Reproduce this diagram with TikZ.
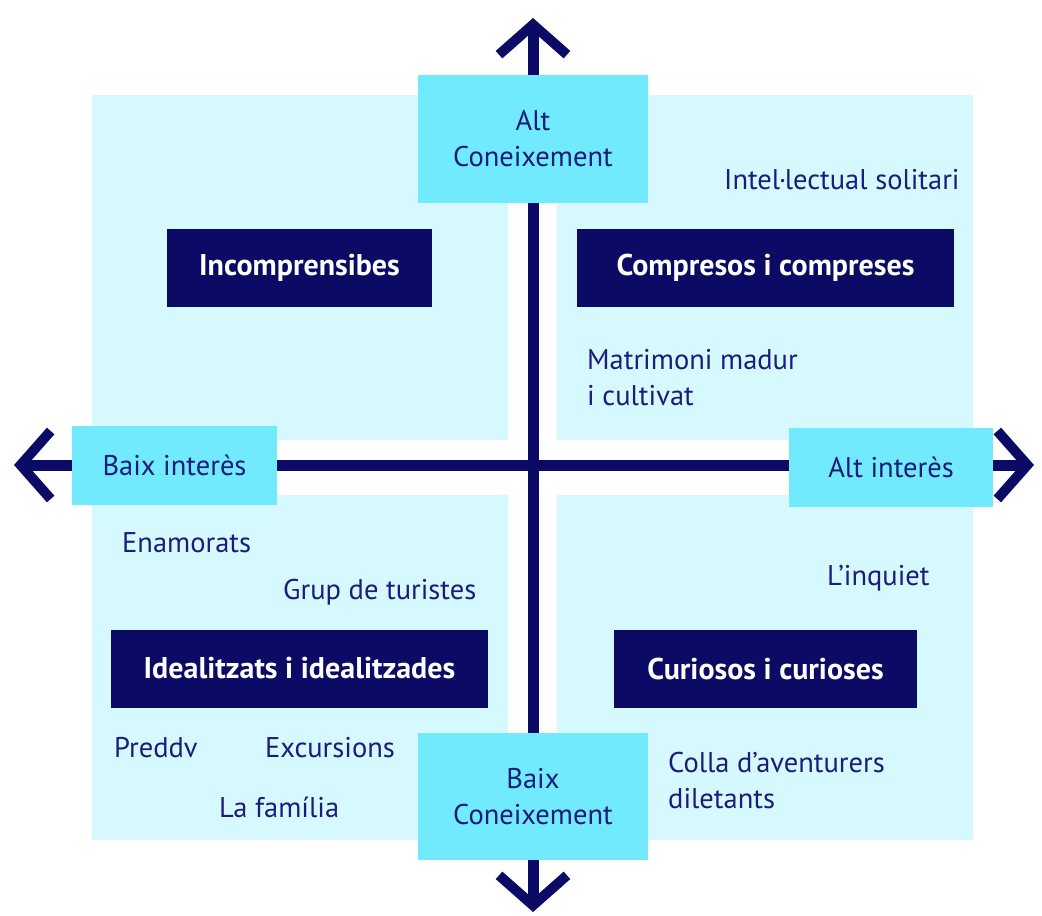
\documentclass[tikz,border=0pt]{standalone}
\usepackage{fontspec}
\setmainfont{PT Sans}
\usetikzlibrary{arrows.meta}
\definecolor{navy}{HTML}{0B0B66}
\definecolor{inknavy}{HTML}{1C1C7A}
\definecolor{paleblue}{HTML}{D5F9FE}
\definecolor{axisblue}{HTML}{72EAFD}
\tikzset{
	quadrant/.style = {
		fill=paleblue,
		draw=none
	},
	axis_lbl/.style = {
		rectangle,
		fill=axisblue,
		text=inknavy,
		align=center,
		inner sep=0pt,
		font=\fontsize{28.5}{36}\selectfont
	},
	group_box/.style = {
		rectangle,
		fill=navy,
		text=white,
		inner sep=0pt,
		minimum height=78pt,
		font=\fontsize{30}{30}\selectfont\bfseries
	},
	item/.style = {
		text=inknavy,
		anchor=west,
		align=left,
		inner sep=0pt,
		font=\fontsize{28.5}{36}\selectfont
	},
	axis/.style = {
		draw=navy,
		line width=11pt,
		{Straight Barb[length=30pt,width=68pt,line width=10pt]}-{Straight Barb[length=30pt,width=68pt,line width=10pt]}
	},
}

\begin{document}
\begin{tikzpicture}[x=1pt,y=-1pt]
\useasboundingbox (0,0) rectangle (1042,916);
% quadrants
\fill [quadrant] (92,95) rectangle (508,440);
\fill [quadrant] (557,95) rectangle (973,440);
\fill [quadrant] (92,495) rectangle (508,840);
\fill [quadrant] (557,495) rectangle (973,840);
% axes
\coordinate (n) at (533,18);
\coordinate (s) at (533,912);
\coordinate (w) at (14,465);
\coordinate (e) at (1034,465);
\draw [axis] (s) -- (n);
\draw [axis] (w) -- (e);
% axis labels
\node [axis_lbl, minimum width=230pt, minimum height=128pt] (high_k) at (533,139) {Alt\\Coneixement};
\node [axis_lbl, minimum width=230pt, minimum height=127pt] (low_k) at (533,796.5) {Baix\\Coneixement};
\node [axis_lbl, minimum width=205pt, minimum height=79pt] (low_i) at (174.5,465.5) {Baix interès};
\node [axis_lbl, minimum width=204pt, minimum height=79pt] (high_i) at (891,467.5) {Alt interès};
% groups
\node [group_box, minimum width=265pt] (incomp) at (299.5,268) {Incomprensibes};
\node [group_box, minimum width=377pt] (compr) at (765.5,268) {Compresos i compreses};
\node [group_box, minimum width=377pt] (ideal) at (299.5,668.5) {Idealitzats i idealitzades};
\node [group_box, minimum width=303pt] (curios) at (765.5,668.5) {Curiosos i curioses};
% items
\node [item] (intel) at (724,180) {Intel\kern-1.5pt·\kern-1.5pt lectual solitari};
\node [item] (matri) at (587,378) {Matrimoni madur\\i cultivat};
\node [item] (enam) at (122,543) {Enamorats};
\node [item] (grup) at (283,592) {Grup de turistes};
\node [item] (inqu) at (827,578) {L’inquiet};
\node [item] (preddv) at (114,748) {Preddv};
\node [item] (excur) at (265,748) {Excursions};
\node [item] (famil) at (219,807) {La família};
\node [item] (colla) at (668,781) {Colla d’aventurers\\diletants};
\end{tikzpicture}
\end{document}
